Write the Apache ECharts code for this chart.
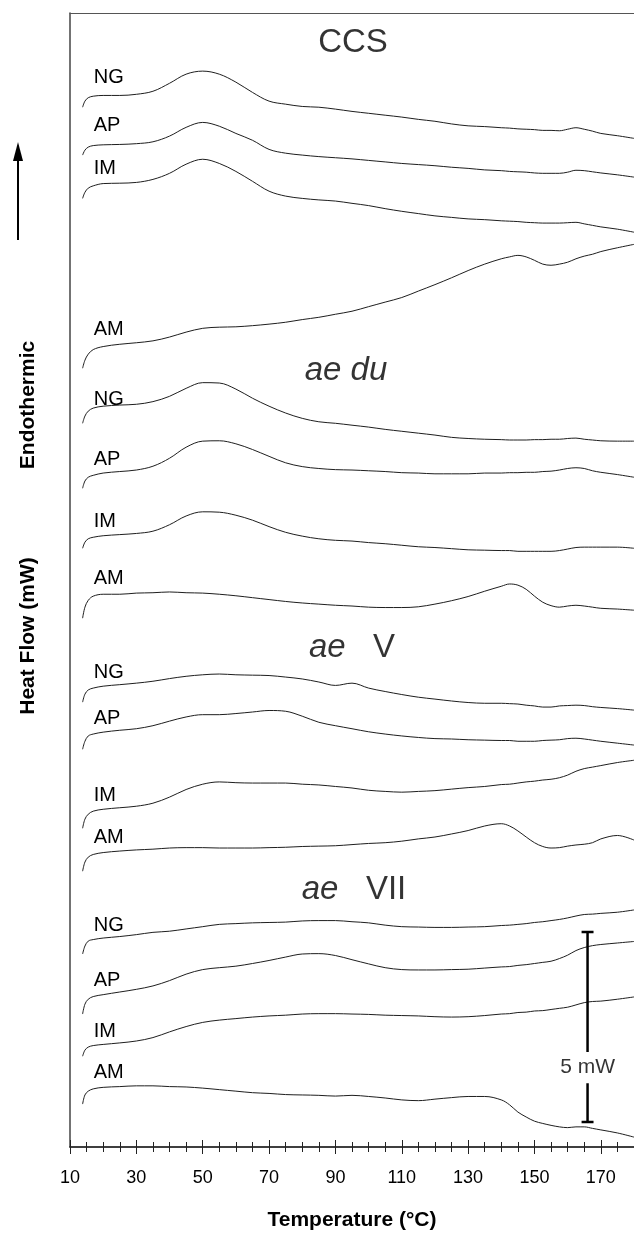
<!DOCTYPE html>
<html><head><meta charset="utf-8">
<script src="https://cdn.jsdelivr.net/npm/echarts@6/dist/echarts.min.js"></script>
<style>html,body{margin:0;padding:0;background:#fff}#c{width:634px;height:1238px}</style>
</head><body><div id="c"></div>
<script>
// Temperature (°C) sample points shared by all traces
const temps = [13.8, 14.5, 15.5, 17, 20, 25, 30, 35, 40, 45, 50, 55, 60, 65, 70, 75, 80, 85, 90, 95, 100, 105, 110, 115, 120, 125, 130, 135, 140, 142.5, 145, 147.5, 150, 152.5, 155, 157.5, 160, 162.5, 165, 167.5, 170, 175, 180];
// Heat flow (mW, with vertical offsets as stacked in the figure)
const ccsNG = [27.37,27.53,27.62,27.66,27.68, 27.68,27.71,27.79,28.00,28.24,28.32,28.24,28.03,27.76,27.53,27.45,27.39,27.37,27.32,27.26,27.21,27.16,27.11,27.05,27.00,26.93,26.88,26.86,26.83, 26.82,26.80,26.79,26.78,26.76,26.76,26.75,26.79,26.83,26.79,26.74,26.68, 26.62,26.55];
const ccsAP = [26.11,26.24,26.32,26.36,26.38, 26.39,26.41,26.46,26.61,26.84,26.97,26.87,26.68,26.50,26.26,26.16,26.11,26.07,26.04,26.01,25.97,25.93,25.89,25.86,25.83,25.79,25.76,25.72,25.70, 25.68,25.67,25.66,25.64,25.63,25.63,25.63,25.66,25.71,25.70,25.67,25.64, 25.59,25.53];
const ccsIM = [24.97,25.13,25.24,25.30,25.36, 25.37,25.39,25.47,25.63,25.87,26.00,25.89,25.68,25.42,25.16,25.03,24.97,24.93,24.90,24.84,24.78,24.70,24.63,24.57,24.51,24.47,24.43,24.41,24.38, 24.37,24.36,24.34,24.33,24.32,24.32,24.32,24.33,24.34,24.30,24.26,24.22, 24.16,24.08];
const ccsAM = [20.50,20.71,20.87,20.99,21.07, 21.13,21.17,21.22,21.32,21.45,21.55,21.58,21.59,21.62,21.66,21.71,21.78,21.84,21.92,22.00,22.12,22.24,22.36,22.53,22.70,22.88,23.07,23.24,23.38, 23.43,23.47,23.43,23.34,23.24,23.21,23.24,23.29,23.38,23.45,23.50,23.57, 23.67,23.76];
const duNG = [19.05,19.24,19.37,19.45,19.50, 19.53,19.55,19.62,19.76,19.97,20.12,20.11,19.95,19.71,19.50,19.32,19.18,19.09,19.05,19.00,18.95,18.89,18.84,18.79,18.74,18.68,18.65,18.63,18.62, 18.61,18.61,18.61,18.62,18.62,18.63,18.63,18.65,18.66,18.63,18.61,18.59, 18.58,18.58];
const duAP = [17.34,17.53,17.63,17.68,17.74, 17.78,17.82,17.92,18.13,18.42,18.58,18.59,18.51,18.36,18.18,18.01,17.91,17.86,17.83,17.82,17.80,17.78,17.75,17.74,17.72,17.72,17.72,17.74,17.74, 17.75,17.75,17.76,17.76,17.78,17.79,17.82,17.86,17.88,17.86,17.80,17.76, 17.70,17.63];
const duIM = [15.76,15.92,16.01,16.05,16.09, 16.12,16.15,16.21,16.38,16.61,16.72,16.71,16.63,16.50,16.33,16.18,16.08,16.01,15.97,15.95,15.91,15.88,15.84,15.80,15.78,15.75,15.72,15.71,15.70, 15.70,15.68,15.68,15.68,15.68,15.68,15.70,15.74,15.78,15.79,15.79,15.79, 15.79,15.76];
const duAM = [13.92,14.21,14.39,14.50,14.55, 14.55,14.58,14.59,14.61,14.59,14.58,14.55,14.51,14.46,14.41,14.36,14.32,14.29,14.26,14.24,14.21,14.20,14.20,14.22,14.29,14.38,14.49,14.63,14.76, 14.82,14.79,14.68,14.50,14.34,14.25,14.21,14.24,14.26,14.24,14.21,14.18, 14.16,14.13];
const vNG = [11.71,11.92,12.03,12.08,12.13, 12.17,12.21,12.26,12.33,12.39,12.43,12.45,12.43,12.42,12.41,12.37,12.32,12.24,12.15,12.21,12.08,11.99,11.91,11.84,11.79,11.74,11.70,11.68,11.68, 11.67,11.66,11.63,11.61,11.58,11.58,11.61,11.62,11.63,11.62,11.59,11.57, 11.54,11.50];
const vAP = [10.47,10.68,10.82,10.87,10.92, 10.97,11.01,11.09,11.21,11.32,11.38,11.38,11.41,11.45,11.49,11.47,11.34,11.18,11.09,11.01,10.93,10.87,10.82,10.78,10.75,10.74,10.72,10.71,10.70, 10.70,10.68,10.68,10.68,10.70,10.71,10.72,10.75,10.76,10.74,10.71,10.68, 10.63,10.58];
const vIM = [8.39,8.63,8.76,8.84,8.89, 8.93,8.97,9.05,9.21,9.41,9.55,9.61,9.59,9.58,9.58,9.58,9.55,9.53,9.49,9.45,9.39,9.36,9.34,9.36,9.38,9.42,9.46,9.49,9.54, 9.55,9.58,9.61,9.63,9.66,9.68,9.72,9.79,9.89,9.96,10.00,10.04, 10.12,10.18];
const vAM = [7.26,7.50,7.63,7.70,7.75, 7.79,7.82,7.84,7.87,7.88,7.88,7.87,7.87,7.87,7.88,7.89,7.91,7.92,7.93,7.96,7.99,8.01,8.05,8.11,8.16,8.24,8.33,8.45,8.51, 8.45,8.32,8.16,8.01,7.91,7.87,7.88,7.92,7.95,7.97,8.01,8.11, 8.20,8.08];
const viiNG = [5.08,5.29,5.42,5.46,5.50, 5.54,5.59,5.65,5.68,5.74,5.80,5.86,5.88,5.90,5.91,5.92,5.95,5.96,5.96,5.93,5.90,5.84,5.80,5.79,5.78,5.78,5.79,5.80,5.83, 5.84,5.86,5.88,5.91,5.93,5.96,5.99,6.03,6.08,6.12,6.13,6.15, 6.18,6.24];
const viiAP = [3.50,3.76,3.89,3.96,4.01, 4.08,4.15,4.24,4.38,4.55,4.67,4.72,4.76,4.83,4.91,5.00,5.08,5.09,5.04,4.93,4.82,4.72,4.67,4.66,4.66,4.67,4.68,4.71,4.74, 4.75,4.78,4.80,4.83,4.86,4.89,4.96,5.05,5.17,5.25,5.30,5.33, 5.37,5.41];
const viiIM = [2.39,2.55,2.63,2.67,2.70, 2.74,2.79,2.88,3.03,3.17,3.28,3.34,3.38,3.42,3.45,3.47,3.50,3.51,3.51,3.50,3.49,3.47,3.46,3.45,3.43,3.42,3.43,3.46,3.50, 3.51,3.54,3.55,3.58,3.59,3.62,3.65,3.68,3.74,3.80,3.83,3.84, 3.89,3.95];
const viiAM = [1.13,1.37,1.47,1.53,1.57, 1.59,1.61,1.61,1.59,1.58,1.55,1.51,1.47,1.43,1.41,1.38,1.37,1.36,1.34,1.36,1.33,1.29,1.24,1.22,1.26,1.30,1.33,1.33,1.24, 1.11,0.92,0.79,0.68,0.62,0.57,0.53,0.51,0.53,0.53,0.49,0.45, 0.37,0.26];

// Trace labels: [temperature, heat flow, text]
const traceLabels = [
  [17, 28.16, 'NG'], [17, 26.89, 'AP'], [17, 25.76, 'IM'], [17, 21.53, 'AM'],
  [17, 19.68, 'NG'], [17, 18.11, 'AP'], [17, 16.47, 'IM'], [17, 14.97, 'AM'],
  [17, 12.50, 'NG'], [17, 11.29, 'AP'], [17, 9.26, 'IM'], [17, 8.16, 'AM'],
  [17, 5.84, 'NG'], [17, 4.39, 'AP'], [17, 3.05, 'IM'], [17, 1.97, 'AM']
];
// Group titles: [temperature, heat flow, italic part, upright part]
const groupTitles = [
  [95.3, 29.05, '', 'CCS'],
  [93.2, 20.42, 'ae du', ''],
  [95.0, 13.13, 'ae', 'V'],
  [95.6, 6.76, 'ae', 'VII']
];
// Scale bar (5 mW)
const scaleT = 166, scaleBottom = 0.66, scaleSpan = 5, scaleCapHalf = 1.8;
const scaleGap = [1.68, 2.50], scaleText = '5 mW', scaleTextY = 2.11;
const xTicks = {min: 10, max: 180, major: 20, minor: 5};

const FONT = "'Liberation Sans', Arial, Helvetica, sans-serif";
const curves = [ccsNG, ccsAP, ccsIM, ccsAM, duNG, duAP, duIM, duAM, vNG, vAP, vIM, vAM, viiNG, viiAP, viiIM, viiAM];

const series = curves.map(vals => ({
  type: 'line', xAxisIndex: 0, yAxisIndex: 0,
  data: temps.map((t, i) => [t, vals[i]]),
  showSymbol: false, symbol: 'none', smooth: 0.35, silent: true,
  lineStyle: { color: '#1e1e1e', width: 1 }
}));

series.push({
  type: 'scatter', data: traceLabels, symbolSize: 1, silent: true,
  itemStyle: { color: 'rgba(0,0,0,0)' },
  label: { show: true, position: 'right', distance: 0, formatter: p => p.data[2],
           color: '#000', fontSize: 20, fontFamily: FONT, opacity: 1 }
});
series.push({
  type: 'scatter', data: groupTitles, symbolSize: 1, silent: true,
  itemStyle: { color: 'rgba(0,0,0,0)' },
  label: { show: true, position: 'inside', color: '#000', fontSize: 33, fontFamily: FONT,
    formatter: p => {
      const it = p.data[2], up = p.data[3];
      if (it && up) return '{i|' + it + '}   {n|' + up + '}';
      if (it) return '{i|' + it + '}';
      return '{n|' + up + '}';
    },
    rich: { i: { fontStyle: 'italic', fontSize: 33, fontFamily: FONT, color: '#000' },
            n: { fontSize: 33, fontFamily: FONT, color: '#000' } } }
});
// scale bar
series.push({
  type: 'line', data: [[scaleT, scaleBottom], [scaleT, scaleGap[0]]], symbol: 'none', silent: true,
  lineStyle: { color: '#000', width: 2.5 }
});
series.push({
  type: 'line', data: [[scaleT, scaleGap[1]], [scaleT, scaleBottom + scaleSpan]], symbol: 'none', silent: true,
  lineStyle: { color: '#000', width: 2.5 }
});
series.push({
  type: 'line', data: [[scaleT - scaleCapHalf, scaleBottom + scaleSpan], [scaleT + scaleCapHalf, scaleBottom + scaleSpan]], symbol: 'none', silent: true,
  lineStyle: { color: '#000', width: 2.5 }
});
series.push({
  type: 'line', data: [[scaleT - scaleCapHalf, scaleBottom], [scaleT + scaleCapHalf, scaleBottom]], symbol: 'none', silent: true,
  lineStyle: { color: '#000', width: 2.5 }
});
series.push({
  type: 'scatter', data: [[scaleT, scaleTextY, scaleText]], symbolSize: 1, silent: true,
  itemStyle: { color: 'rgba(0,0,0,0)' },
  label: { show: true, position: 'inside', formatter: p => p.data[2], color: '#000', fontSize: 21, fontFamily: FONT }
});

function tickAxis(interval, inside, len, withLabels) {
  return {
    type: 'value', min: xTicks.min, max: xTicks.max, interval: interval, position: 'bottom',
    axisLine: { show: withLabels, lineStyle: { color: '#000', width: 1.5 } },
    axisTick: { show: true, inside: inside, length: len, lineStyle: { color: '#222', width: 1 } },
    axisLabel: withLabels ? {
      show: true, color: '#000', fontSize: 18, fontFamily: FONT, margin: 22,
      formatter: v => (v === xTicks.max ? '' : String(v))
    } : { show: false },
    splitLine: { show: false },
    name: withLabels ? 'Temperature (°C)' : '', nameLocation: 'middle', nameGap: 63,
    nameTextStyle: { color: '#000', fontSize: 21, fontWeight: 'bold', fontFamily: FONT }
  };
}

const option = {
  animation: false,
  backgroundColor: '#fff',
  grid: { left: 70, right: 0, top: 13, bottom: 91, outerBoundsMode: 'none', containLabel: false },
  xAxis: [
    tickAxis(xTicks.major, false, 7, true),
    tickAxis(xTicks.major, true, 7, false),
    tickAxis(xTicks.minor, false, 5, false),
    tickAxis(xTicks.minor, true, 5, false),
    { type: 'value', min: xTicks.min, max: xTicks.max, position: 'top',
      axisLine: { show: true, lineStyle: { color: '#555', width: 1 } },
      axisTick: { show: false }, axisLabel: { show: false }, splitLine: { show: false } }
  ],
  yAxis: {
    type: 'value', min: 0, max: 29.85,
    axisLine: { show: true, lineStyle: { color: '#444', width: 1.5 } },
    axisTick: { show: false }, axisLabel: { show: false }, splitLine: { show: false }
  },
  graphic: [
    { type: 'text', x: 28, y: 636, rotation: Math.PI / 2,
      style: { text: 'Heat Flow (mW)', fontSize: 21, fontWeight: 'bold', fontFamily: FONT, fill: '#000', align: 'center', verticalAlign: 'middle' } },
    { type: 'text', x: 28, y: 405, rotation: Math.PI / 2,
      style: { text: 'Endothermic', fontSize: 21, fontWeight: 'bold', fontFamily: FONT, fill: '#000', align: 'center', verticalAlign: 'middle' } },
    { type: 'line', shape: { x1: 18, y1: 240, x2: 18, y2: 158 }, style: { stroke: '#000', lineWidth: 2 } },
    { type: 'polygon', shape: { points: [[18, 142], [13, 161], [23, 161]] }, style: { fill: '#000' } }
  ],
  series: series
};

const chart = echarts.init(document.getElementById('c'), null, { renderer: 'canvas' });
chart.setOption(option);
</script>
</body></html>
